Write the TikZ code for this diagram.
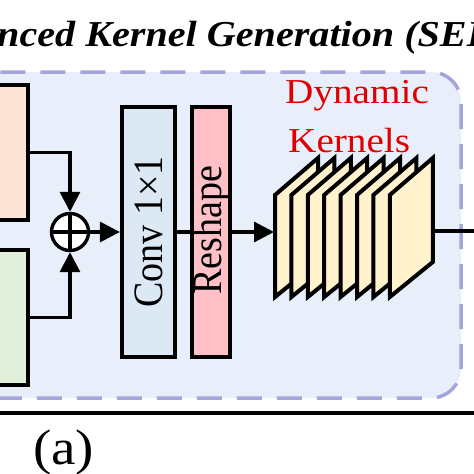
\documentclass[tikz,border=0pt]{standalone}
\usepackage{fontspec}
\setmainfont{Liberation Serif}
\usetikzlibrary{arrows.meta}
\definecolor{dashfill}{HTML}{E9EFFA}
\definecolor{dashline}{HTML}{A3A6D8}
\definecolor{convfill}{HTML}{DDE8F5}
\definecolor{reshfill}{HTML}{FFC0C7}
\definecolor{orangefill}{HTML}{FBE4D5}
\definecolor{greenfill}{HTML}{E2EFDA}
\definecolor{sheetfill}{HTML}{FFF2CC}
\definecolor{dynred}{HTML}{E00000}
\begin{document}
\begin{tikzpicture}[x=1pt,y=-1pt,
  blk/.style={draw=black, line width=4.2pt, inner sep=0pt},
  conn/.style={line width=3.2pt},
  arr/.style={conn, -{Triangle[length=20pt,width=20pt]}},
  sheet/.style={draw=black, line width=4pt, fill=sheetfill, line join=miter},
  dyntext/.style={anchor=base west, inner sep=0pt, text=dynred, font=\fontsize{35}{40}\selectfont},
  vtext/.style={rotate=90, inner sep=0pt, font=\fontsize{38}{42}\selectfont}
]
\useasboundingbox (0,0) rectangle (474,474);
\fill[white] (0,0) rectangle (474,474);

% dashed container
\draw[dashline, line width=3.5pt, dash pattern=on 25pt off 15pt, fill=dashfill, rounded corners=30pt]
  (-40,72) rectangle (461,398);

% title
\node[anchor=base west, inner sep=0pt, font=\fontsize{36.5}{40}\selectfont\bfseries\itshape] (title) at (-3,46)
  {\scalebox{1.1}[1]{nced Kernel Generation (SEK}};

% input boxes
\node[blk, fill=orangefill, minimum width=70pt, minimum height=135pt] (org) at (-7,152.5) {};
\node[blk, fill=greenfill, minimum width=70pt, minimum height=135pt] (grn) at (-7,317.5) {};

% sum
\node[circle, draw, line width=3.4pt, fill=white, minimum size=37pt, inner sep=0pt] (plus) at (70,232) {};
\draw[line width=3.2pt] (plus.north) -- (plus.south) (plus.west) -- (plus.east);

% conv and reshape
\node[blk, fill=convfill, minimum width=53pt, minimum height=250pt] (conv) at (148.5,232) {};
\node[vtext] (convt) at (148.5,232) {\scalebox{1}[1.1]{Conv 1×1}};
\node[blk, fill=reshfill, minimum width=38pt, minimum height=250pt] (resh) at (211,232) {};
\node[vtext] (resht) at (211,230) {\scalebox{1}[1.1]{Reshape}};

% kernels
\foreach \i in {0,...,7}{
  \pgfmathsetmacro{\xx}{275+16.4*\i}
  \draw[sheet] (\xx,195) -- (\xx+43,158) -- (\xx+43,262) -- (\xx,297) -- cycle;
}
\coordinate (kin) at (274,232);
\coordinate (kout) at (432,231);
\coordinate (outr) at (480,231);

\node[dyntext] (dyn) at (285,103) {\scalebox{1.12}[1]{Dynamic}};
\node[dyntext] (ker) at (288,152) {\scalebox{1.12}[1]{Kernels}};

% connectors
\draw[arr] (org.east) -| (plus.north);
\draw[arr] (grn.east) -| (plus.south);
\draw[arr] (plus.east) -- (conv.west);
\draw[conn] (conv.east) -- (resh.west);
\draw[arr] (resh.east) -- (kin);
\draw[conn] (kout) -- (outr);

% rule and label
\coordinate (rl) at (-5,413);
\coordinate (rr) at (480,413);
\draw[line width=3.5pt] (rl) -- (rr);
\node[anchor=base west, inner sep=0pt, font=\fontsize{50}{55}\selectfont] (lab) at (33,464) {\scalebox{1.1}[1]{(a)}};
\end{tikzpicture}
\end{document}
